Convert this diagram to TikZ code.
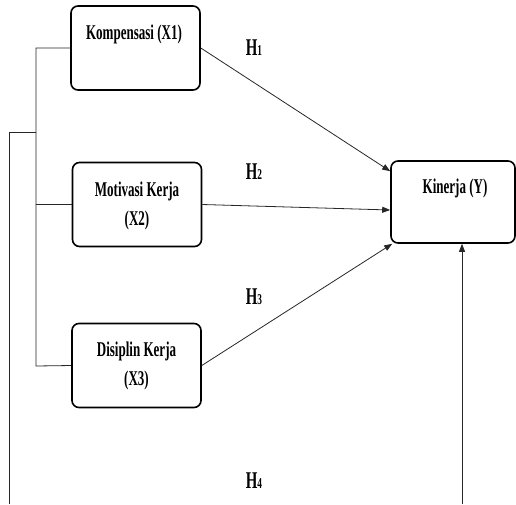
\documentclass[tikz,border=0pt]{standalone}
\usepackage{fontspec}
\setmainfont{Liberation Serif}[FakeStretch=0.62]
\usetikzlibrary{arrows.meta,calc}
\begin{document}
\begin{tikzpicture}[x=1pt,y=-1pt,
  box/.style={draw,line width=1.6pt,rounded corners=7pt,minimum width=129pt,minimum height=84pt,inner sep=0},
  lbl/.style={font=\bfseries\fontsize{21}{29}\selectfont,align=center,inner sep=0},
  hl/.style={font=\bfseries\fontsize{24}{26}\selectfont,inner sep=0},
  conn/.style={line width=0.8pt,draw=black!85},
  arr/.style={conn,-{Triangle[length=8pt,width=6pt]}}]
\useasboundingbox (0,0) rectangle (516,504);
\node[box] (x1) at (135.5,48) {};
\node[box] (x2) at (137,204.5) {};
\node[box] (x3) at (136.5,365.5) {};
\node[box,minimum width=124pt,minimum height=82pt] (y) at (453,202) {};
\node[lbl] (t1) at (134,34) {Kompensasi (X1)};
\node[lbl] (t2) at (137,206) {Motivasi Kerja\\(X2)};
\node[lbl] (t3) at (136.5,366) {Disiplin Kerja\\(X3)};
\node[lbl] (ty) at (455,188) {Kinerja (Y)};
\node[hl] (h1) at (254,48) {H{\fontsize{15}{16}\selectfont 1}};
\node[hl] (h2) at (254,172) {H{\fontsize{15}{16}\selectfont 2}};
\node[hl] (h3) at (254,297) {H{\fontsize{15}{16}\selectfont 3}};
\node[hl] (h4) at (254,481) {H{\fontsize{15}{16}\selectfont 4}};
\coordinate (bt) at (36,48);
\coordinate (bb) at (36,366);
\coordinate (o1) at (36,132);
\coordinate (o2) at (9,132);
\coordinate (o3) at (9,504);
\coordinate (r1) at (462,504);
\draw[conn] (x1.west) -- (bt) -- (bb) -- (x3.west);
\draw[conn] (x2.west) -- (x2.west -| bt);
\draw[conn] (o1) -- (o2) -- (o3);
\draw[arr] (x1.east) -- ($(y.north west)+(0,11)$);
\draw[arr] (x2.east) -- ($(y.west)+(0,8)$);
\draw[arr] (x3.east) -- ($(y.south west)+(2,0)$);
\draw[arr] (r1) -- (r1 |- y.south);
\end{tikzpicture}
\end{document}
